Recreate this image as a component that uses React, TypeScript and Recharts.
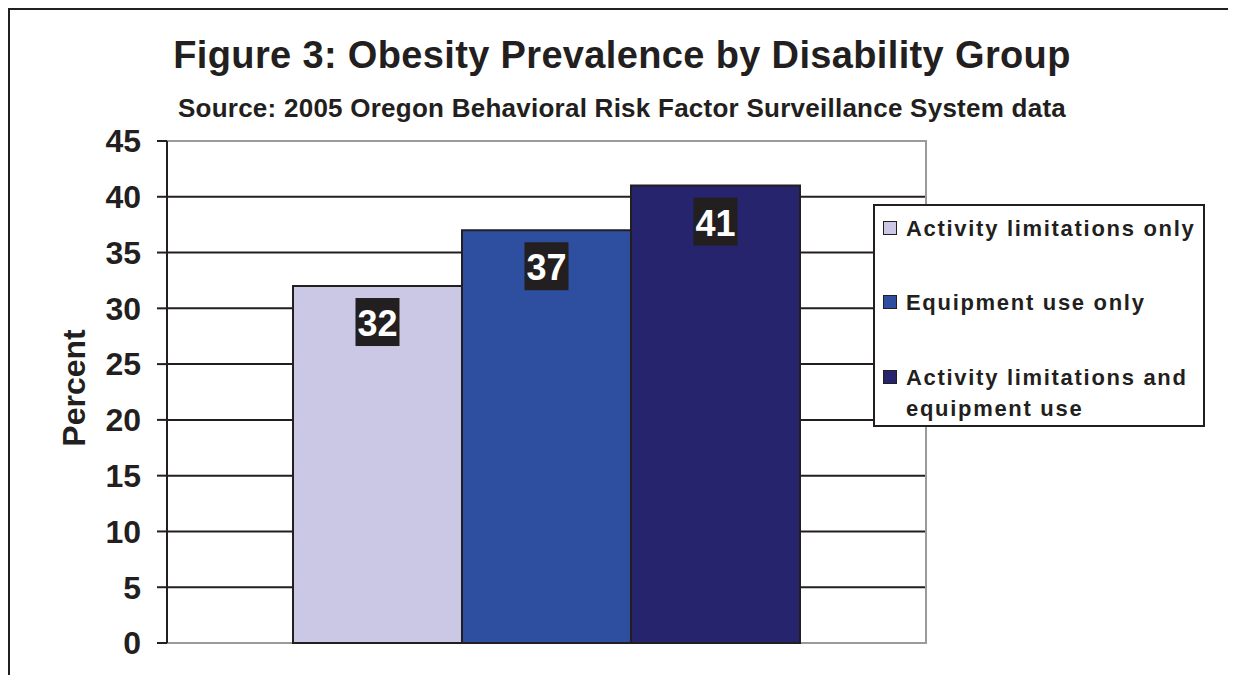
import { BarChart, Bar, XAxis, YAxis, CartesianGrid, ReferenceArea, LabelList } from "recharts";

const FONT = "'Liberation Sans', Arial, Helvetica, sans-serif";
const INK = "#231f20";

const categories = ["2005"];
const seriesKeys = ["activityOnly", "equipmentOnly", "both"];
const seriesNames = [
  "Activity limitations only",
  "Equipment use only",
  "Activity limitations and equipment use",
];
const seriesColors = ["#cac8e4", "#2e4f9f", "#25246c"];
const activityOnly = [32];
const equipmentOnly = [37];
const both = [41];
const yTicks = [0, 5, 10, 15, 20, 25, 30, 35, 40, 45];
const gridValues = [5, 10, 15, 20, 25, 30, 35, 40];

const data = categories.map((name, i) => ({
  name,
  activityOnly: activityOnly[i],
  equipmentOnly: equipmentOnly[i],
  both: both[i],
}));

// black box with white number, sitting just under the bar top
function ValueBox(props: any) {
  const { x, y, width, value } = props;
  const cx = Number(x) + Number(width) / 2;
  const top = Number(y) + 12;
  return (
    <g>
      <rect x={cx - 22} y={top} width={44} height={48} fill={INK} />
      <text
        x={cx}
        y={top + 38}
        textAnchor="middle"
        fill="#ffffff"
        fontSize={36}
        fontWeight="bold"
        fontFamily={FONT}
      >
        {value}
      </text>
    </g>
  );
}

export default function App() {
  return (
    <div style={{ position: "relative", width: 1228, height: 667, fontFamily: FONT, color: INK, background: "#fff" }}>
      <BarChart
        width={1228}
        height={667}
        data={data}
        margin={{ top: 133, right: 310, bottom: 32, left: 79 }}
        barCategoryGap="16.6%"
        barGap={0}
      >
        <CartesianGrid vertical={false} horizontalValues={gridValues} stroke={INK} strokeWidth={2} />
        <ReferenceArea y1={0} y2={45} fill="none" stroke="#9a9a9a" strokeWidth={2} ifOverflow="visible" />
        <XAxis dataKey="name" hide />
        <YAxis
          width={80}
          domain={[0, 45]}
          ticks={yTicks}
          interval={0}
          tickSize={10}
          tickMargin={16}
          axisLine={{ stroke: INK, strokeWidth: 2 }}
          tickLine={{ stroke: INK, strokeWidth: 2 }}
          tick={{ fill: INK, fontSize: 32, fontWeight: "bold", fontFamily: FONT }}
        />
        {seriesKeys.map((key, i) => (
          <Bar
            key={key}
            dataKey={key}
            name={seriesNames[i]}
            fill={seriesColors[i]}
            stroke={INK}
            strokeWidth={2}
            isAnimationActive={false}
          >
            <LabelList dataKey={key} content={ValueBox} />
          </Bar>
        ))}
      </BarChart>

      <div
        style={{
          position: "absolute",
          left: 0,
          top: 27.8,
          width: 1228,
          textAlign: "center",
          fontSize: 38,
          lineHeight: "38px",
          fontWeight: "bold",
          letterSpacing: 0.35,
          whiteSpace: "nowrap",
        }}
      >
        Figure 3: Obesity Prevalence by Disability Group
      </div>
      <div
        style={{
          position: "absolute",
          left: 0,
          top: 86.7,
          width: 1228,
          textAlign: "center",
          fontSize: 26,
          lineHeight: "26px",
          fontWeight: "bold",
          letterSpacing: 0.25,
          whiteSpace: "nowrap",
        }}
      >
        Source: 2005 Oregon Behavioral Risk Factor Surveillance System data
      </div>
      <div
        style={{
          position: "absolute",
          left: 66,
          top: 380,
          transform: "translate(-50%, -50%) rotate(-90deg)",
          fontSize: 32,
          lineHeight: "32px",
          fontWeight: "bold",
          whiteSpace: "nowrap",
        }}
      >
        Percent
      </div>

      <div
        style={{
          position: "absolute",
          left: 865,
          top: 196,
          width: 332,
          height: 223,
          boxSizing: "border-box",
          border: `2px solid ${INK}`,
          background: "#fff",
          paddingTop: 6.5,
          paddingLeft: 8,
        }}
      >
        {seriesNames.map((label, i) => (
          <div key={label} style={{ display: "flex", alignItems: "flex-start", marginBottom: 43.5 }}>
            <span
              style={{
                display: "inline-block",
                width: 14,
                height: 14,
                marginTop: 8,
                marginRight: 9,
                boxSizing: "border-box",
                border: `1px solid ${INK}`,
                background: seriesColors[i],
                flexShrink: 0,
              }}
            />
            <span
              style={{
                width: 300,
                fontSize: 22,
                lineHeight: "31px",
                fontWeight: "bold",
                letterSpacing: 1.7,
              }}
            >
              {label}
            </span>
          </div>
        ))}
      </div>

      <div
        style={{
          position: "absolute",
          left: 0,
          top: 0,
          width: 1228,
          height: 667,
          boxSizing: "border-box",
          borderTop: `2px solid ${INK}`,
          borderLeft: `2px solid ${INK}`,
          borderRight: "2px solid #c4c4c4",
          pointerEvents: "none",
        }}
      />
    </div>
  );
}
